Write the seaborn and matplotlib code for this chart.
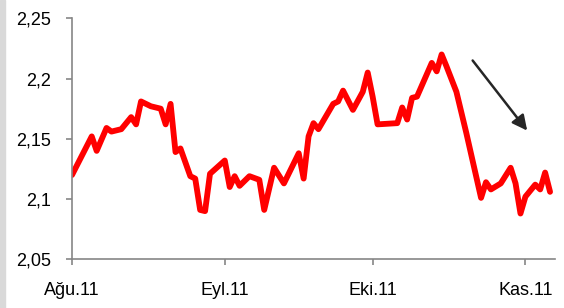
import pandas as pd
import matplotlib
matplotlib.use("Agg")
import matplotlib.pyplot as plt
import matplotlib.patches as mpatches
import seaborn as sns

# Datos (fecha, valor)
dates = [
    "2011-08-01", "2011-08-05", "2011-08-06", "2011-08-08", "2011-08-09",
    "2011-08-11", "2011-08-13", "2011-08-14", "2011-08-15", "2011-08-17",
    "2011-08-19", "2011-08-20", "2011-08-21", "2011-08-22", "2011-08-23",
    "2011-08-25", "2011-08-26", "2011-08-27", "2011-08-28", "2011-08-29",
    "2011-09-01", "2011-09-02", "2011-09-03", "2011-09-04", "2011-09-06",
    "2011-09-08", "2011-09-09", "2011-09-11", "2011-09-13", "2011-09-16",
    "2011-09-17", "2011-09-18", "2011-09-19", "2011-09-20", "2011-09-23",
    "2011-09-24", "2011-09-25", "2011-09-27", "2011-09-29", "2011-09-30",
    "2011-10-01", "2011-10-02", "2011-10-06", "2011-10-07", "2011-10-08",
    "2011-10-09", "2011-10-10", "2011-10-13", "2011-10-14", "2011-10-15",
    "2011-10-16", "2011-10-18", "2011-10-20", "2011-10-23", "2011-10-24",
    "2011-10-25", "2011-10-27", "2011-10-29", "2011-10-30", "2011-10-31",
    "2011-11-01", "2011-11-03", "2011-11-04", "2011-11-05", "2011-11-06",
]
values = [
    2.120, 2.152, 2.140, 2.159, 2.156,
    2.158, 2.168, 2.162, 2.181, 2.177,
    2.175, 2.162, 2.179, 2.139, 2.142,
    2.119, 2.117, 2.091, 2.090, 2.121,
    2.132, 2.110, 2.119, 2.111, 2.119,
    2.116, 2.091, 2.126, 2.113, 2.138,
    2.117, 2.152, 2.163, 2.158, 2.179,
    2.181, 2.190, 2.174, 2.189, 2.205,
    2.185, 2.162, 2.163, 2.176, 2.166,
    2.184, 2.185, 2.213, 2.206, 2.220,
    2.210, 2.189, 2.155, 2.101, 2.114,
    2.108, 2.113, 2.126, 2.113, 2.088,
    2.102, 2.112, 2.108, 2.122, 2.106,
]

x_ticks = ["2011-08-01", "2011-09-01", "2011-10-01", "2011-11-01"]
x_labels = ["Ağu.11", "Eyl.11", "Eki.11", "Kas.11"]
y_ticks = [2.05, 2.10, 2.15, 2.20, 2.25]
y_labels = ["2,05", "2,1", "2,15", "2,2", "2,25"]

df = pd.DataFrame({"fecha": pd.to_datetime(dates), "valor": values})

sns.set_style("white")
plt.rcParams["font.family"] = ["Liberation Sans", "DejaVu Sans"]

fig = plt.figure(figsize=(5.64, 3.08), dpi=100)
ax = fig.add_axes([0.1277, 0.158, 0.8563, 0.7826])

# franja gris a la izquierda
fig.patches.append(mpatches.Rectangle((0, 0), 5 / 564, 1, transform=fig.transFigure,
                                      color="#d9d9d9", zorder=0))

sns.lineplot(data=df, x="fecha", y="valor", ax=ax, color="#ff0000", linewidth=4.2)

ax.set_xlim(pd.Timestamp("2011-08-01"), pd.Timestamp("2011-11-07"))
ax.set_ylim(2.05, 2.25)
ax.set_xticks(pd.to_datetime(x_ticks))
ax.set_xticklabels(x_labels)
ax.set_yticks(y_ticks)
ax.set_yticklabels(y_labels)
ax.set_xlabel("")
ax.set_ylabel("")

for side in ["top", "right"]:
    ax.spines[side].set_visible(False)
for side in ["left", "bottom"]:
    ax.spines[side].set_color("#868686")
    ax.spines[side].set_linewidth(1.2)

ax.tick_params(axis="both", colors="#868686", labelcolor="black", labelsize=13,
               length=4, width=1.2, direction="out")
ax.tick_params(axis="y", pad=11)
ax.tick_params(axis="x", pad=12)
ax.xaxis.set_ticks_position("bottom")
ax.yaxis.set_ticks_position("left")

# flecha de tendencia
ax.annotate("", xy=(0.946, 0.525), xytext=(0.826, 0.834), xycoords="axes fraction",
            arrowprops=dict(arrowstyle="-|>,head_length=0.9,head_width=0.45",
                            color="#262626", lw=1.8))

fig.savefig("out.png", dpi=100)
